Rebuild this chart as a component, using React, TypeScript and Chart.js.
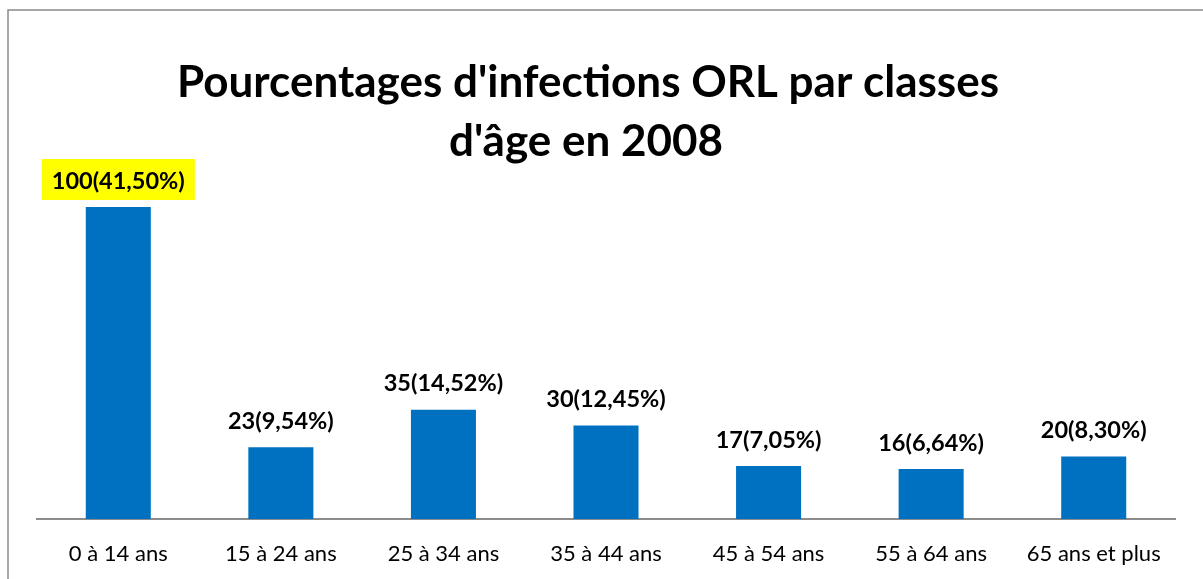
import React, { useEffect, useRef } from "react";
import { Chart, registerables } from "chart.js";

Chart.register(...registerables);

const categories = [
  "0 à 14 ans",
  "15 à 24 ans",
  "25 à 34 ans",
  "35 à 44 ans",
  "45 à 54 ans",
  "55 à 64 ans",
  "65 ans et plus",
];
const counts = [100, 23, 35, 30, 17, 16, 20];
const percentLabels = ["41,50%", "9,54%", "14,52%", "12,45%", "7,05%", "6,64%", "8,30%"];
const titleLines = ["Pourcentages d'infections ORL par classes", "d'âge en 2008"];
const highlightedIndex = 0;

const FONT = "Lato, 'Open Sans', sans-serif";

const decorPlugin = {
  id: "decor",
  beforeDraw(chart: any) {
    const ctx = chart.ctx;
    ctx.save();
    ctx.strokeStyle = "#8a8a8a";
    ctx.lineWidth = 1.5;
    ctx.beginPath();
    ctx.moveTo(8, 700);
    ctx.lineTo(8, 10);
    ctx.lineTo(1300, 10);
    ctx.stroke();
    ctx.fillStyle = "#000";
    ctx.font = `bold 44px ${FONT}`;
    ctx.textAlign = "center";
    ctx.textBaseline = "alphabetic";
    ctx.fillText(titleLines[0], 588, 97);
    ctx.fillText(titleLines[1], 586, 156);
    ctx.restore();
  },
  afterDatasetsDraw(chart: any) {
    const ctx = chart.ctx;
    const meta = chart.getDatasetMeta(0);
    ctx.save();
    ctx.font = `bold 23.5px ${FONT}`;
    ctx.textAlign = "center";
    ctx.textBaseline = "middle";
    meta.data.forEach((bar: any, i: number) => {
      const text = `${counts[i]}(${percentLabels[i]})`;
      const cy = bar.y - 26;
      if (i === highlightedIndex) {
        const w = ctx.measureText(text).width + 20;
        ctx.fillStyle = "#ffff00";
        ctx.fillRect(bar.x - w / 2, cy - 22, w, 41);
      }
      ctx.fillStyle = "#000";
      ctx.fillText(text, bar.x, cy);
    });
    ctx.restore();
  },
};

export default function App() {
  const ref = useRef<HTMLCanvasElement>(null);
  useEffect(() => {
    if (!ref.current) return;
    const chart = new Chart(ref.current, {
      type: "bar",
      data: {
        labels: categories,
        datasets: [
          {
            data: counts,
            backgroundColor: "#0070C0",
            borderWidth: 0,
            categoryPercentage: 1,
            barPercentage: 0.4,
          },
        ],
      },
      options: {
        responsive: false,
        animation: false,
        layout: { padding: { left: 37, right: 28, top: 144.6, bottom: 0 } },
        plugins: {
          legend: { display: false },
          title: { display: false },
          tooltip: { enabled: false },
        },
        scales: {
          x: {
            grid: { display: false, drawTicks: false },
            border: { display: true, color: "#8c8c8c", width: 2 },
            ticks: {
              color: "#000",
              font: { family: FONT, size: 22 },
              padding: 22,
              maxRotation: 0,
              autoSkip: false,
            },
            afterFit: (scale: any) => {
              scale.height = 60;
            },
          },
          y: {
            display: false,
            min: 0,
            max: 120,
          },
        },
      },
      plugins: [decorPlugin],
    });
    return () => chart.destroy();
  }, []);
  return (
    <canvas
      ref={ref}
      width={1203}
      height={579}
      style={{ position: "fixed", left: 0, top: 0, display: "block" }}
    />
  );
}
